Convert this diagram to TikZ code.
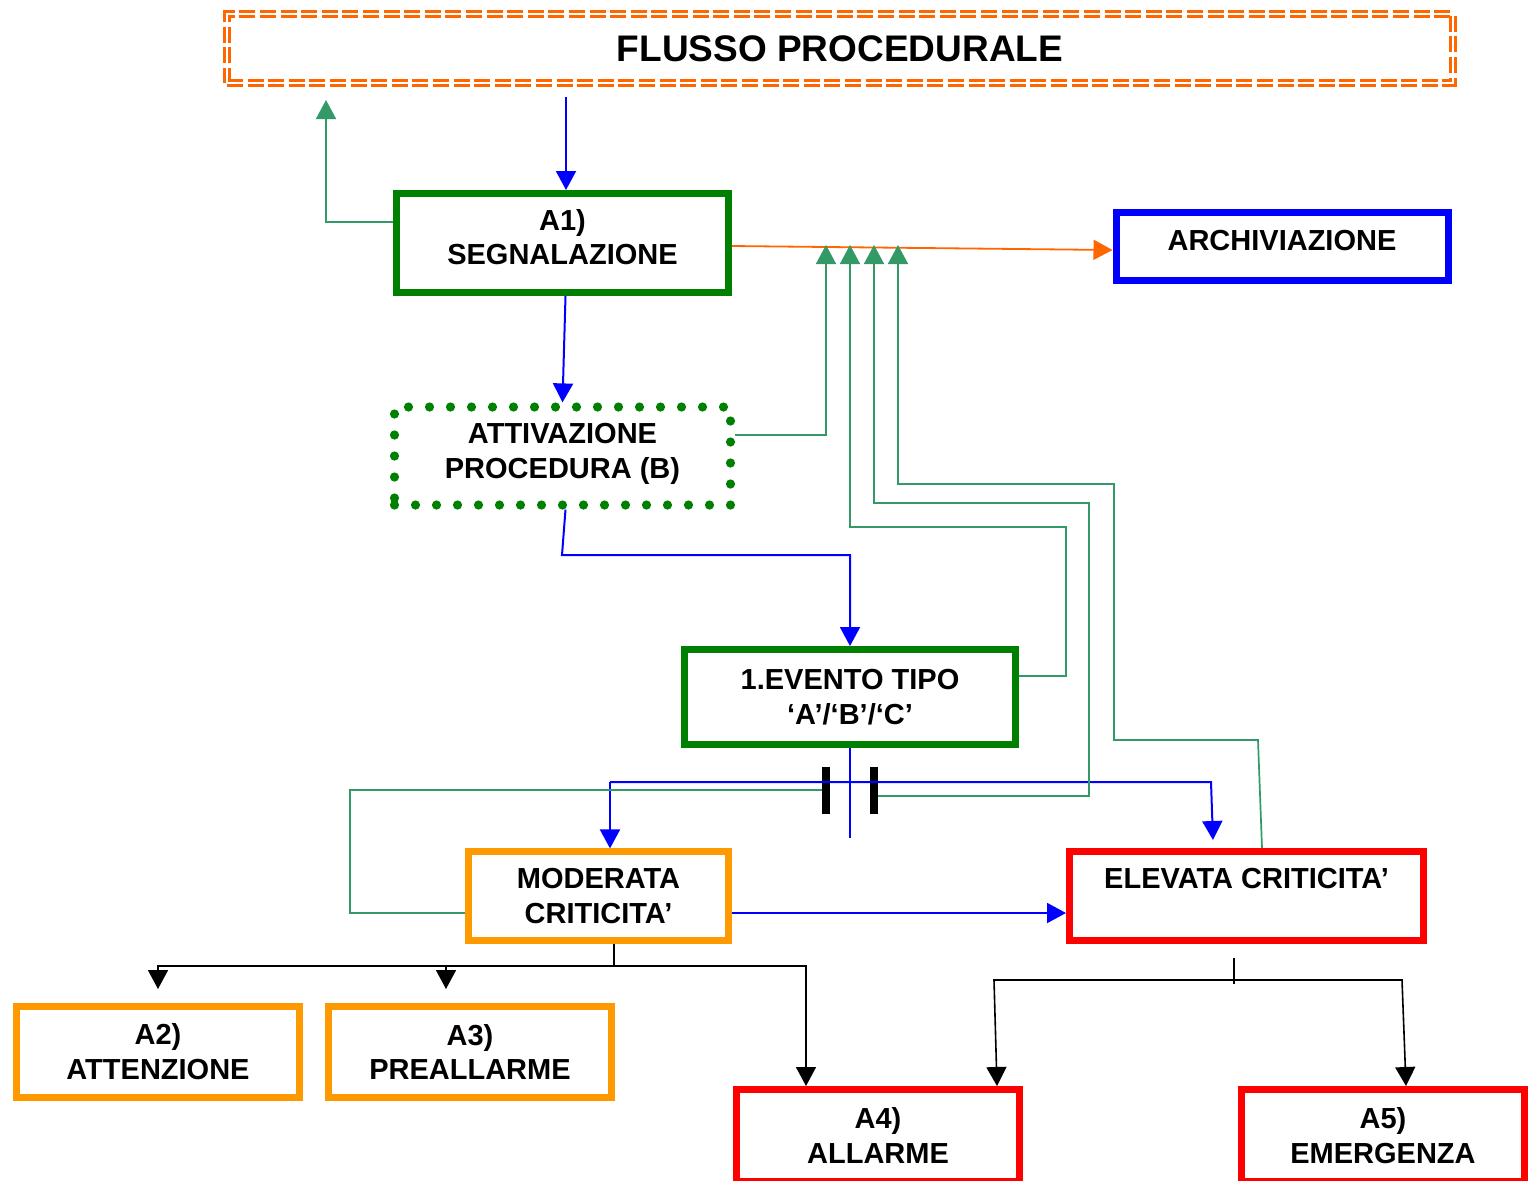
\documentclass[tikz,border=0pt]{standalone}
\usepackage{fontspec}
\setmainfont{Liberation Sans}
\usepackage[dvipsnames]{xcolor}
\usepackage{tikz}
\usetikzlibrary{arrows.meta}

\definecolor{boxgreen}{RGB}{0,128,0}
\definecolor{linkgreen}{RGB}{51,153,102}
\definecolor{boxorange}{RGB}{255,153,0}
\definecolor{titleorange}{RGB}{255,102,0}

\begin{document}
\begin{tikzpicture}[x=0.5pt, y=-0.5pt,
  box/.style={draw, line width=3.5pt, fill=white, align=center, inner sep=0pt,
    font=\bfseries\fontsize{14.5}{17.4}\selectfont},
  greenbox/.style={box, draw=boxgreen},
  orangebox/.style={box, draw=boxorange, line width=3.1pt},
  redbox/.style={box, draw=red},
  titlebox/.style={box, draw=titleorange, line width=1.8pt, double=white, double distance=0.6pt,
    dash pattern=on 8pt off 2.3pt, font=\bfseries\fontsize{18.5}{22}\selectfont},
  dotbox/.style={box, draw=boxgreen, line width=4.6pt, line cap=round,
    dash pattern=on 0pt off 10.5pt},
  bar/.style={fill=black, minimum width=4pt, minimum height=23.5pt, inner sep=0pt},
  tip/.style={-{Triangle[length=9.5pt, width=10pt]}},
  bluelink/.style={draw=blue, line width=1pt},
  greenlink/.style={draw=linkgreen, line width=0.85pt},
  orangelink/.style={draw=titleorange, line width=0.9pt},
  blacklink/.style={draw=black, line width=0.8pt}]

% page
\useasboundingbox (0,0) rectangle (1531,1180);

% draw boxes
\node (flow) [titlebox, minimum width=613pt, minimum height=34.5pt] at (840,48.5) {FLUSSO PROCEDURALE};
\node (a1) [greenbox, minimum width=166pt, minimum height=49.5pt, text depth=6pt] at (562.5,243) {A1)\\SEGNALAZIONE};
\node (archiv) [box, draw=blue, minimum width=166pt, minimum height=34pt, text depth=6pt] at (1282,246) {ARCHIVIAZIONE};
\node (attiv) [dotbox, minimum width=168pt, minimum height=49pt, text depth=5pt] at (562.5,456) {ATTIVAZIONE\\PROCEDURA (B)};
\node (evento) [greenbox, minimum width=165.5pt, minimum height=47.5pt] at (850,697) {1.EVENTO TIPO\\‘A’/‘B’/‘C’};
\node (moderata) [orangebox, minimum width=130pt, minimum height=44.5pt] at (598.5,896) {MODERATA\\CRITICITA’};
\node (elevata) [redbox, minimum width=177pt, minimum height=44.5pt, text depth=18pt] at (1246.5,896) {ELEVATA CRITICITA’};
\node (a2) [orangebox, minimum width=141.5pt, minimum height=45.5pt] at (158,1052) {A2)\\ATTENZIONE};
\node (a3) [orangebox, minimum width=141.5pt, minimum height=45.5pt] at (470,1052) {A3)\\PREALLARME};
\node (a4) [redbox, minimum width=141.5pt, minimum height=46pt] at (878,1135.5) {A4)\\ALLARME};
\node (a5) [redbox, minimum width=141.5pt, minimum height=46pt] at (1383,1135.5) {A5)\\EMERGENZA};

% draw capacitor bars
\node (bar l) [bar] at (826,790) {};
\node (bar r) [bar] at (874,790) {};

% free ends
\coordinate (from flow) at (566,97);
\coordinate (back top) at (326,100);
\coordinate (tip1) at (826,245);
\coordinate (tip2) at (850,245);
\coordinate (tip3) at (874,245);
\coordinate (tip4) at (898,245);
\coordinate (bend b) at (562,555);
\coordinate (tail) at (850,838);
\coordinate (split l) at (610,782);
\coordinate (split r) at (1211,782);
\coordinate (into elev) at (1213,840);
\coordinate (fork m) at (614,966);
\coordinate (to a2) at (158,989);
\coordinate (to a3) at (446,989);
\coordinate (fork e) at (1234,980);

% blue flow
\draw[bluelink, tip] (from flow) -- (from flow |- a1.north);
\draw[bluelink, tip] ([xshift=1.5pt]a1.south) -- (attiv.north);
\draw[bluelink, tip] ([xshift=1.5pt]attiv.south) -- (bend b) -| (evento.north);
\draw[bluelink] (evento.south) -- (tail);
\draw[bluelink, tip] (split l) -- (split l |- moderata.north);
\draw[bluelink, tip] (split l) -- (split r) -- (into elev);
\draw[bluelink, tip] ([yshift=-8.5pt]moderata.east) -- ([yshift=-8.5pt]elevata.west);

% orange to archive
\draw[orangelink, tip] ([yshift=-1.5pt]a1.east) -- ([yshift=-2pt]archiv.west);

% green returns
\draw[greenlink, tip] (a1.west) ++(0,-21) -| (back top);
\draw[greenlink, tip] ([yshift=10.5pt]attiv.east) -| (tip1);
\draw[greenlink, tip] ([yshift=10.5pt]evento.east) -| (1066,527) -| (tip2);
\draw[greenlink, tip] ([yshift=-3pt]bar r.east) -| (1089,503) -| (tip3);
\draw[greenlink, tip] ([xshift=7.75pt]elevata.north) -- (1258,740) -| (1114,484) -| (tip4);
\draw[greenlink] ([yshift=-8.5pt]moderata.west) -| (350,790) -- (bar l.west);

% black branches
\draw[blacklink] (moderata.south -| fork m) -- (fork m);
\draw[blacklink, tip] (fork m) -| (to a2);
\draw[blacklink, tip] (fork m) -| (to a3);
\draw[blacklink, tip] (fork m) -| ([xshift=-36pt]a4.north);
\draw[blacklink] (1234,958) -- (1234,984);
\draw[blacklink, tip] (fork e) -- (994,980) -- ([xshift=59.5pt]a4.north);
\draw[blacklink, tip] (fork e) -- (1402,980) -- ([xshift=11.5pt]a5.north);

\end{tikzpicture}
\end{document}
